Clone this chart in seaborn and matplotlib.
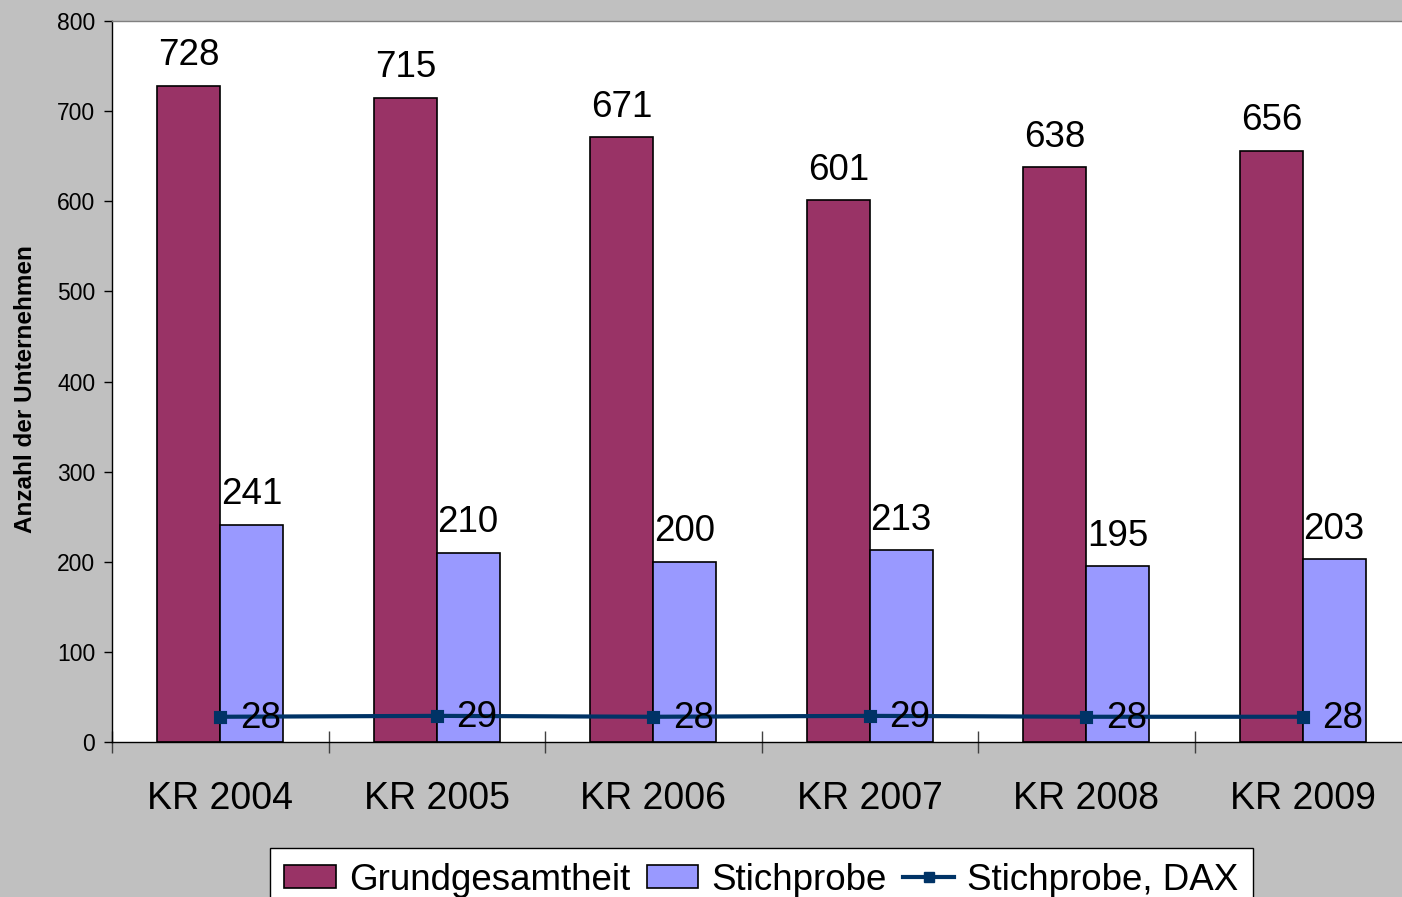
import matplotlib
matplotlib.use("Agg")
import matplotlib.pyplot as plt
import seaborn as sns
import pandas as pd
from matplotlib.patches import Patch
from matplotlib.lines import Line2D

categories = ["KR 2004", "KR 2005", "KR 2006", "KR 2007", "KR 2008", "KR 2009"]
grundgesamtheit = [728, 715, 671, 601, 638, 656]
stichprobe = [241, 210, 200, 213, 195, 203]
stichprobe_dax = [28, 29, 28, 29, 28, 28]
series_names = ["Grundgesamtheit", "Stichprobe", "Stichprobe, DAX"]
y_ticks = [0, 100, 200, 300, 400, 500, 600, 700, 800]

c_gg = "#993366"
c_st = "#9999FF"
c_dax = "#003366"

plt.rcParams["font.family"] = ["Liberation Sans", "DejaVu Sans"]

df = pd.DataFrame({
    "Jahr": categories * 2,
    "Anzahl": grundgesamtheit + stichprobe,
    "Reihe": [series_names[0]] * len(categories) + [series_names[1]] * len(categories),
})

W, H = 1402, 897
fig = plt.figure(figsize=(W / 100, H / 100), dpi=100, facecolor="#C0C0C0")
ax = fig.add_axes([112 / W, 1 - 742 / H, (1411 - 112) / W, (742 - 21) / H])
ax.set_facecolor("white")

sns.barplot(data=df, x="Jahr", y="Anzahl", hue="Reihe", order=categories,
            hue_order=series_names[:2], palette=[c_gg, c_st], width=0.58,
            edgecolor="black", linewidth=1.2, saturation=1, ax=ax, legend=False,
            errorbar=None)

sns.pointplot(x=categories, y=stichprobe_dax, color=c_dax, markers="s",
              linewidth=3, markersize=7, ax=ax)

for cont, vals in zip(ax.containers[:2], [grundgesamtheit, stichprobe]):
    ax.bar_label(cont, labels=[str(v) for v in vals], padding=9, fontsize=26.5)

for i, v in enumerate(stichprobe_dax):
    ax.annotate(str(v), (i, v), xytext=(14, -1), textcoords="offset points",
                ha="left", va="center", fontsize=26.5)

ax.set_xlim(-0.5, len(categories) - 0.5)
ax.set_ylim(0, 800)
ax.set_yticks(y_ticks)
ax.tick_params(axis="y", direction="out", length=6, width=1, labelsize=16.5, pad=6)
ax.tick_params(axis="x", which="major", length=0, labelsize=27, pad=28)
ax.set_xticks([i + 0.5 for i in range(-1, len(categories))], minor=True)
ax.tick_params(axis="x", which="minor", direction="inout", length=16, width=1, color="#404040")
ax.set_xlabel("")
ax.set_ylabel("Anzahl der Unternehmen", fontsize=17.5, fontweight="bold")
ax.yaxis.set_label_coords(-0.058, 0.49)

for s in ["left", "bottom"]:
    ax.spines[s].set_color("black")
    ax.spines[s].set_linewidth(1)
ax.spines["top"].set_color("#808080")
ax.spines["top"].set_linewidth(1)
ax.spines["right"].set_visible(False)

handles = [
    Patch(facecolor=c_gg, edgecolor="black", linewidth=1.2),
    Patch(facecolor=c_st, edgecolor="black", linewidth=1.2),
    Line2D([0], [0], color=c_dax, linewidth=3, marker="s", markersize=7),
]
leg = fig.legend(handles, series_names, loc="upper center",
                 bbox_to_anchor=(761.5 / W, 1 - 848 / H), ncol=3, fontsize=26.5,
                 frameon=True, fancybox=False, shadow=False, borderpad=0.4,
                 handlelength=1.4, handleheight=0.6, handletextpad=0.35,
                 columnspacing=0.45, borderaxespad=0)
leg.get_frame().set_edgecolor("black")
leg.get_frame().set_linewidth(1)
leg.get_frame().set_facecolor("white")
leg.get_frame().set_alpha(1)

fig.savefig("out.png", dpi=100, facecolor=fig.get_facecolor())
